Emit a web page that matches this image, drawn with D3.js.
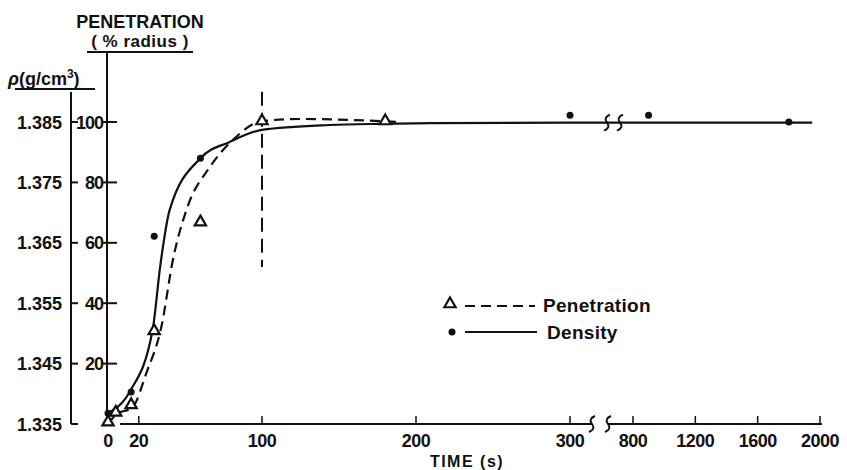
<!DOCTYPE html>
<html>
<head>
<meta charset="utf-8">
<script src="https://cdn.jsdelivr.net/npm/d3@7"></script>
<style>
  body { margin: 0; background: #fff; }
  svg { font-family: "Liberation Sans", Arial, sans-serif; font-weight: bold; }
  text { fill: #111; }
</style>
</head>
<body>
<svg id="chart" width="847" height="470"></svg>
<script>
// measured points
const penTime = [0, 5, 15, 30, 60, 100, 180];
const penValue = [0.3, 3.5, 6, 30.5, 66.5, 100, 100];

const denTime = [0, 15, 30, 60, 300, 900, 1800];
const denValue = [1.3368, 1.3403, 1.3661, 1.3790, 1.3861, 1.3861, 1.3850];

// fitted curves
const penCurveTime = [0, 5, 16, 25, 35, 42, 51, 66, 81, 100, 125, 177, 190];
const penCurveValue = [0, 3, 5.6, 17, 33, 54, 71, 85, 94, 100.3, 101, 100.3, 100];

const denCurveTime = [0, 14, 29, 34, 40, 60, 79, 100, 144, 177, 210, 300, 900, 1950];
const denCurveValue = [1.3368, 1.3403, 1.3506, 1.3613, 1.3704, 1.3790, 1.3817, 1.3837, 1.3845, 1.3847, 1.3848, 1.3849, 1.3849, 1.3849];

// axes
const timeTicks = [20, 100, 200, 300, 800, 1200, 1600, 2000];
const timeLabels = [0, 20, 100, 200, 300, 800, 1200, 1600, 2000];
const penTicks = [20, 40, 60, 80, 100];
const denTicks = [1.335, 1.345, 1.355, 1.365, 1.375, 1.385];

const svg = d3.select('#chart');

// broken time axis: 0-300 then 800-2000
const x = d3.scaleLinear()
  .domain([0, 300, 800, 2000])
  .range([108, 570, 633, 820]);

const yPen = d3.scaleLinear().domain([0, 100]).range([424, 122]);
const yDen = d3.scaleLinear().domain([1.335, 1.385]).range([424, 122]);

const ink = '#111';

// density axis (outer)
const denX = 71;
svg.append('line')
  .attr('x1', denX).attr('x2', denX)
  .attr('y1', 92).attr('y2', yDen(1.335))
  .attr('stroke', ink).attr('stroke-width', 2);

svg.append('g')
  .selectAll('line')
  .data(denTicks)
  .join('line')
  .attr('x1', denX).attr('x2', denX + 7)
  .attr('y1', d => yDen(d)).attr('y2', d => yDen(d))
  .attr('stroke', ink).attr('stroke-width', 2);

svg.append('g')
  .selectAll('text')
  .data(denTicks)
  .join('text')
  .attr('x', 62)
  .attr('y', d => yDen(d) + 6.5)
  .attr('text-anchor', 'end')
  .style('font-size', '18px')
  .text(d => d.toFixed(3));

// penetration axis (inner)
const penX = 107;
svg.append('line')
  .attr('x1', penX).attr('x2', penX)
  .attr('y1', 52).attr('y2', yPen(0))
  .attr('stroke', ink).attr('stroke-width', 2);

svg.append('g')
  .selectAll('line')
  .data(penTicks)
  .join('line')
  .attr('x1', penX - 4).attr('x2', penX + 10)
  .attr('y1', d => yPen(d)).attr('y2', d => yPen(d))
  .attr('stroke', ink).attr('stroke-width', 2);

svg.append('g')
  .selectAll('text')
  .data(penTicks)
  .join('text')
  .attr('x', penX - 4)
  .attr('y', d => yPen(d) + 6.5)
  .attr('text-anchor', 'end')
  .style('font-size', '18px')
  .style('letter-spacing', '-1px')
  .text(d => d);

// axis titles
svg.append('text')
  .attr('x', 140).attr('y', 28)
  .attr('text-anchor', 'middle')
  .style('font-size', '18px')
  .text('PENETRATION');
svg.append('text')
  .attr('x', 140).attr('y', 47)
  .attr('text-anchor', 'middle')
  .style('font-size', '17px')
  .style('letter-spacing', '0.5px')
  .text('( % radius )');
svg.append('line')
  .attr('x1', 87).attr('x2', 193)
  .attr('y1', 52).attr('y2', 52)
  .attr('stroke', ink).attr('stroke-width', 2);

const rho = svg.append('text')
  .attr('x', 8).attr('y', 85)
  .style('font-size', '18px');
rho.append('tspan').style('font-style', 'italic').text('ρ');
rho.append('tspan').text('(g/cm');
rho.append('tspan').attr('dy', -7).style('font-size', '12px').text('3');
rho.append('tspan').attr('dy', 7).text(')');
svg.append('line')
  .attr('x1', 15).attr('x2', 95)
  .attr('y1', 89).attr('y2', 89)
  .attr('stroke', ink).attr('stroke-width', 2);

// time axis with break
const axisY = yPen(0);
const breakA = 592, breakB = 608;
svg.append('line')
  .attr('x1', 120).attr('x2', breakA)
  .attr('y1', axisY).attr('y2', axisY)
  .attr('stroke', ink).attr('stroke-width', 2);
svg.append('line')
  .attr('x1', breakB).attr('x2', x(2000) + 2)
  .attr('y1', axisY).attr('y2', axisY)
  .attr('stroke', ink).attr('stroke-width', 2);

svg.append('g')
  .selectAll('line')
  .data(timeTicks)
  .join('line')
  .attr('x1', d => x(d)).attr('x2', d => x(d))
  .attr('y1', axisY).attr('y2', axisY - 8)
  .attr('stroke', ink).attr('stroke-width', 1.5);

svg.append('g')
  .selectAll('text')
  .data(timeLabels)
  .join('text')
  .attr('x', d => x(d))
  .attr('y', 447)
  .attr('text-anchor', 'middle')
  .style('font-size', '18px')
  .style('letter-spacing', '-0.5px')
  .text(d => d);

svg.append('text')
  .attr('x', 467).attr('y', 467)
  .attr('text-anchor', 'middle')
  .style('font-size', '16px')
  .style('letter-spacing', '1.5px')
  .text('TIME (s)');

function squiggle(cx, cy) {
  return `M${cx + 3},${cy - 8} Q${cx - 4},${cy - 5} ${cx},${cy} Q${cx + 4},${cy + 5} ${cx - 3},${cy + 8}`;
}
svg.append('g')
  .selectAll('path')
  .data([breakA, breakB])
  .join('path')
  .attr('d', d => squiggle(d, axisY))
  .attr('fill', 'none')
  .attr('stroke', ink).attr('stroke-width', 2);

// vertical dashed marker at t = 100
svg.append('line')
  .attr('x1', x(100)).attr('x2', x(100))
  .attr('y1', yPen(110)).attr('y2', yPen(52))
  .attr('stroke', ink).attr('stroke-width', 2)
  .attr('stroke-dasharray', '14,7');

// curves
const penLine = d3.line()
  .x(d => x(d[0]))
  .y(d => yPen(d[1]))
  .curve(d3.curveMonotoneX);

const denLine = d3.line()
  .x(d => x(d[0]))
  .y(d => yDen(d[1]))
  .curve(d3.curveMonotoneX);

svg.append('path')
  .datum(d3.zip(denCurveTime, denCurveValue))
  .attr('d', denLine)
  .attr('fill', 'none')
  .attr('stroke', ink).attr('stroke-width', 2.2);

svg.append('path')
  .datum(d3.zip(penCurveTime, penCurveValue))
  .attr('d', penLine)
  .attr('fill', 'none')
  .attr('stroke', ink).attr('stroke-width', 2.2)
  .attr('stroke-dasharray', '10,6');

// break marks on the curve
svg.append('g')
  .selectAll('path')
  .data([607, 620])
  .join('path')
  .attr('d', d => squiggle(d, yDen(1.3849)))
  .attr('fill', 'none')
  .attr('stroke', ink).attr('stroke-width', 2);

// points
const tri = d3.symbol().type(d3.symbolTriangle).size(55);

svg.append('g')
  .selectAll('path')
  .data(d3.zip(penTime, penValue))
  .join('path')
  .attr('transform', d => `translate(${x(d[0])},${yPen(d[1]) - 1})`)
  .attr('d', tri)
  .attr('fill', '#fff')
  .attr('stroke', ink).attr('stroke-width', 2.2);

svg.append('g')
  .selectAll('circle')
  .data(d3.zip(denTime, denValue))
  .join('circle')
  .attr('cx', d => x(d[0]))
  .attr('cy', d => yDen(d[1]))
  .attr('r', 3.5)
  .attr('fill', ink);

// legend
const legend = svg.append('g');
legend.append('path')
  .attr('transform', 'translate(450,304)')
  .attr('d', tri)
  .attr('fill', '#fff')
  .attr('stroke', ink).attr('stroke-width', 2.2);
legend.append('line')
  .attr('x1', 465).attr('x2', 535)
  .attr('y1', 306).attr('y2', 306)
  .attr('stroke', ink).attr('stroke-width', 2.2)
  .attr('stroke-dasharray', '10,6');
legend.append('text')
  .attr('x', 543).attr('y', 312)
  .style('font-size', '19px')
  .style('letter-spacing', '0.3px')
  .text('Penetration');

legend.append('circle')
  .attr('cx', 452).attr('cy', 332)
  .attr('r', 3.5)
  .attr('fill', ink);
legend.append('line')
  .attr('x1', 465).attr('x2', 537)
  .attr('y1', 332).attr('y2', 332)
  .attr('stroke', ink).attr('stroke-width', 2.2);
legend.append('text')
  .attr('x', 547).attr('y', 339)
  .style('font-size', '19px')
  .style('letter-spacing', '0.3px')
  .text('Density');
</script>
</body>
</html>
